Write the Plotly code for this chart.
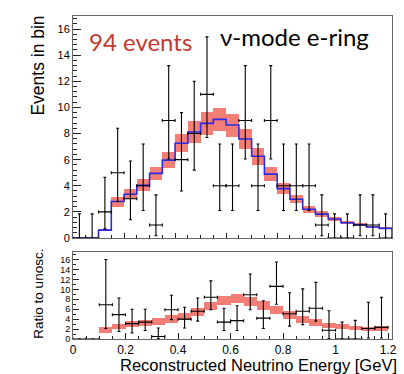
import numpy as np
import plotly.graph_objects as go

# ---------------- data ----------------
bin_width = 0.05
top_centers = [0.025 + 0.05 * i for i in range(25)]
top_edges = [0.05 * i for i in range(26)]

top_data = [0, 0, 2, 5, 3, 4, 1, 9, 6, 8, 11, 4, 4, 9, 4, 9, 4, 4, 4, 1, 0, 0, 1, 1, 0]
top_err_lo = [0, 0, 1.3, 2.2, 1.6, 1.9, 0.83, 2.95, 2.4, 2.8, 3.3, 1.9, 1.9, 2.95, 1.9, 2.95,
              1.9, 1.9, 1.9, 0.83, 0, 0, 0.83, 0.83, 0]
top_err_hi = [1.85, 1.85, 2.65, 3.4, 2.9, 3.2, 2.3, 4.2, 3.6, 4.0, 4.4, 3.2, 3.2, 4.2, 3.2, 4.2,
              3.2, 3.2, 3.2, 2.3, 1.85, 1.85, 2.3, 2.3, 1.85]
top_pred = [0, 0, 0.6, 2.79, 3.35, 4.03, 4.95, 5.96, 7.25, 8.12, 8.78, 9.08, 8.65, 7.58, 6.26,
            4.89, 3.78, 2.97, 2.2, 1.83, 1.45, 1.17, 1.01, 0.84, 0.74]
top_syst = [0, 0, 0.1, 0.38, 0.4, 0.45, 0.52, 0.6, 0.7, 0.82, 0.88, 0.9, 0.88, 0.8, 0.65,
            0.53, 0.4, 0.32, 0.26, 0.2, 0.16, 0.13, 0.11, 0.1, 0.08]

ratio_centers = [0.025 + 0.05 * i for i in range(24)]
ratio_data = [0, 0, 6.9, 4.9, 3.1, 3.4, 0.5, 5.9, 4.0, 5.6, 8.4, 3.4, 3.7, 8.9, 4.2, 10.6,
              5.1, 5.6, 6.2, 1.75, 0, 0, 2.1, 2.35]
ratio_err_lo = [0, 0, 4.8, 3.4, 1.9, 1.7, 0.45, 2.0, 1.8, 2.0, 2.5, 1.7, 2.0, 3.0, 2.1, 3.6,
                2.5, 2.7, 2.6, 1.68, 0, 0, 1.9, 2.15]
ratio_err_hi = [0, 0, 9.1, 3.35, 2.9, 2.6, 1.7, 2.9, 2.4, 2.65, 3.3, 2.8, 3.0, 4.2, 3.5, 4.9,
                4.2, 4.5, 5.2, 3.95, 3.4, 3.76, 5.3, 6.05]
ratio_pred = [None, None, 1.8, 2.5, 2.95, 3.2, 3.55, 4.0, 4.5, 5.5, 6.6, 7.8, 8.2, 7.6, 6.7,
              5.8, 4.8, 4.0, 3.3, 2.75, 2.45, 2.2, 2.0, 2.05]
ratio_syst = [0, 0, 0.6, 0.6, 0.65, 0.65, 0.7, 0.72, 0.75, 0.8, 0.85, 0.9, 0.9, 0.9, 0.85,
              0.8, 0.72, 0.7, 0.62, 0.55, 0.5, 0.45, 0.45, 0.45]

top_yticks = [0, 2, 4, 6, 8, 10, 12, 14, 16]
bot_yticks = [0, 2, 4, 6, 8, 10, 12, 14, 16]
bot_xticks = [0, 0.2, 0.4, 0.6, 0.8, 1.0, 1.2]
bot_xticklabels = ["0", "0.2", "0.4", "0.6", "0.8", "1", "1.2"]

RED = "#F27E75"
BLUE = "#2B2BE6"
FONT = "Liberation Sans, Arial, sans-serif"
LABEL_FONT = "Lato, Open Sans, sans-serif"

fig = go.Figure()

# ---- top panel ----
fig.add_trace(go.Bar(
    x=top_centers, y=[2 * s for s in top_syst],
    base=[p - s for p, s in zip(top_pred, top_syst)],
    width=bin_width, marker=dict(color=RED, line=dict(width=0)),
    xaxis="x", yaxis="y", showlegend=False, hoverinfo="skip"))

step_x = top_edges[:-1] + [top_edges[-1], top_edges[-1]]
step_y = top_pred + [top_pred[-1], 0]
fig.add_trace(go.Scatter(
    x=step_x, y=step_y, mode="lines", line=dict(color=BLUE, width=1.6, shape="hv"),
    xaxis="x", yaxis="y", showlegend=False, hoverinfo="skip"))

fig.add_trace(go.Scatter(
    x=top_centers, y=top_data, mode="markers",
    marker=dict(size=1, color="black"),
    error_x=dict(type="constant", value=bin_width / 2, color="black", thickness=1.1, width=1.5),
    error_y=dict(type="data", symmetric=False, array=top_err_hi, arrayminus=top_err_lo,
                 color="black", thickness=1.1, width=1.5),
    xaxis="x", yaxis="y", showlegend=False, hoverinfo="skip"))

# ---- bottom panel ----
fig.add_trace(go.Bar(
    x=ratio_centers, y=[2 * s if p is not None else 0 for p, s in zip(ratio_pred, ratio_syst)],
    base=[(p - s) if p is not None else 0 for p, s in zip(ratio_pred, ratio_syst)],
    width=bin_width, marker=dict(color=RED, line=dict(width=0)),
    xaxis="x2", yaxis="y2", showlegend=False, hoverinfo="skip"))

fig.add_trace(go.Scatter(
    x=ratio_centers, y=ratio_data, mode="markers",
    marker=dict(size=1, color="black"),
    error_x=dict(type="constant", value=bin_width / 2, color="black", thickness=1.1, width=1.5),
    error_y=dict(type="data", symmetric=False, array=ratio_err_hi, arrayminus=ratio_err_lo,
                 color="black", thickness=1.1, width=1.5),
    xaxis="x2", yaxis="y2", showlegend=False, hoverinfo="skip"))

axis_common = dict(showgrid=False, zeroline=False, showline=True, mirror=True,
                   linecolor="#666", linewidth=1, ticks="inside", tickcolor="#222")

fig.update_layout(
    width=404, height=374,
    margin=dict(l=73, r=7, t=16, b=35),
    paper_bgcolor="white", plot_bgcolor="white",
    barmode="overlay", bargap=0,
    font=dict(family=FONT, color="black"),
    xaxis=dict(domain=[0, 1], range=[0, 1.25], anchor="y", showticklabels=False,
               tickvals=[0.2 * i for i in range(7)], ticklen=5,
               minor=dict(dtick=0.05, ticklen=3, ticks="inside", tickcolor="#222"),
               **axis_common),
    yaxis=dict(domain=[0.3127, 1], range=[0, 17], anchor="x",
               tickvals=top_yticks, ticklen=8, tickfont=dict(size=11),
               minor=dict(dtick=0.4, ticklen=4, ticks="inside", tickcolor="#222"),
               **axis_common),
    xaxis2=dict(domain=[0, 1], range=[0, 1.215], anchor="y2",
                tickvals=bot_xticks, ticktext=bot_xticklabels, ticklen=6,
                tickfont=dict(size=12),
                minor=dict(dtick=0.05, ticklen=3, ticks="inside", tickcolor="#222"),
                **axis_common),
    yaxis2=dict(domain=[0, 0.269], range=[0, 17.5], anchor="x2",
                tickvals=bot_yticks, ticklen=6, tickfont=dict(size=9),
                minor=dict(dtick=1, ticklen=3, ticks="inside", tickcolor="#222"),
                **axis_common),
)

annotations = [
    dict(text="Events in bin", x=-0.108, y=0.845, xref="paper", yref="paper",
         textangle=-90, showarrow=False, font=dict(size=17.5, family=FONT),
         xanchor="center", yanchor="middle"),
    dict(text="Ratio to unosc.", x=-0.108, y=0.139, xref="paper", yref="paper",
         textangle=-90, showarrow=False, font=dict(size=13.5, family=FONT),
         xanchor="center", yanchor="middle"),
    dict(text="Reconstructed Neutrino Energy [GeV]", x=1.0215, y=-0.08, xref="paper",
         yref="paper", showarrow=False, font=dict(size=16.5, family=FONT),
         xanchor="right", yanchor="middle"),
    dict(text="94 events", x=0.043, y=0.9226, xref="paper", yref="paper",
         showarrow=False, font=dict(size=24, family=LABEL_FONT, color="#BF3B30"),
         xanchor="left", yanchor="middle"),
    dict(text="ν-mode e-ring", x=0.4537, y=0.938, xref="paper", yref="paper",
         showarrow=False, font=dict(size=24, family=LABEL_FONT, color="black"),
         xanchor="left", yanchor="middle"),
]
fig.update_layout(annotations=annotations)

fig.write_html("out.html")
